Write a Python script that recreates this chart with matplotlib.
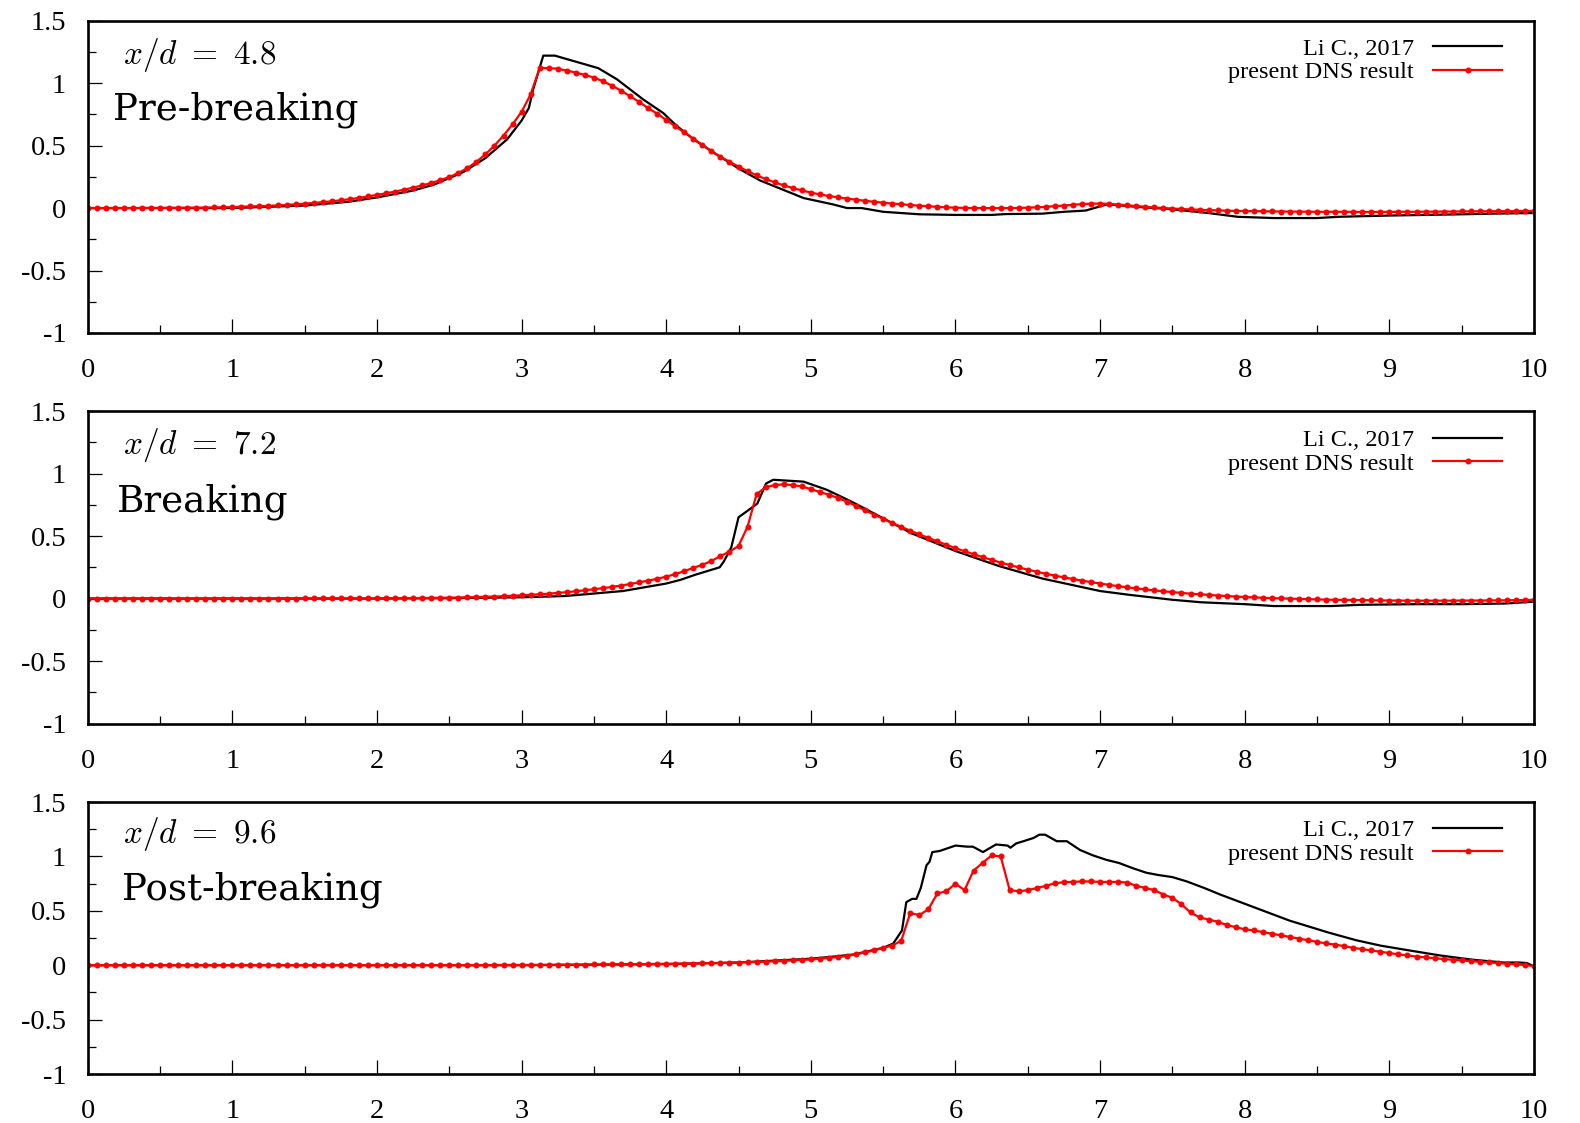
import numpy as np
import matplotlib
matplotlib.use("Agg")
import matplotlib.pyplot as plt
from matplotlib.ticker import MultipleLocator, FixedLocator, FixedFormatter

plt.rcParams['mathtext.fontset'] = 'cm'

# DNS result, sampled every 1/16 on 0..10 (161 points)
x_dns = np.linspace(0, 10, 161)

red1 = [0.000, 0.000, 0.000, 0.000, 0.000, 0.000, 0.001, 0.001, 0.001,
        0.002, 0.002, 0.003, 0.003, 0.004, 0.005, 0.006, 0.008,
        0.011, 0.013, 0.015, 0.018, 0.021, 0.025, 0.030, 0.035,
        0.041, 0.047, 0.054, 0.062, 0.071, 0.081, 0.093, 0.105,
        0.118, 0.132, 0.147, 0.163, 0.181, 0.201, 0.223, 0.248,
        0.280, 0.320, 0.370, 0.430, 0.500, 0.580, 0.670, 0.770,
        0.910, 1.120,
        1.120, 1.115, 1.100, 1.085, 1.065, 1.045, 1.015, 0.980,
        0.940, 0.895, 0.850, 0.800, 0.755, 0.705, 0.655, 0.605,
        0.555, 0.505, 0.455, 0.410, 0.370, 0.332, 0.295, 0.262,
        0.232, 0.205, 0.182, 0.160, 0.141, 0.124, 0.109, 0.096,
        0.086, 0.076, 0.067, 0.058, 0.050, 0.043, 0.036, 0.030,
        0.024, 0.019, 0.014, 0.010, 0.006, 0.003, 0.001, 0.000,
        0.000, -0.001, -0.001, 0.000, 0.001, 0.003, 0.006, 0.010,
        0.015, 0.020, 0.026, 0.031, 0.035, 0.036, 0.033, 0.028,
        0.022, 0.016, 0.010, 0.005, 0.000, -0.004, -0.008, -0.011,
        -0.014, -0.017, -0.019, -0.021, -0.023, -0.024, -0.025, -0.026,
        -0.027, -0.028, -0.028, -0.029, -0.029, -0.030, -0.030, -0.030,
        -0.030, -0.031, -0.031, -0.031, -0.031, -0.031, -0.030, -0.030,
        -0.030, -0.029, -0.029, -0.028, -0.028, -0.027, -0.027, -0.026,
        -0.026, -0.025, -0.025, -0.024, -0.024, -0.023]

red2 = [0.000, 0.000, 0.000, 0.000, 0.000, 0.000, 0.000, 0.000, 0.000,
        0.000, 0.000, 0.000, 0.000, 0.000, 0.000, 0.000, 0.000,
        0.000, 0.000, 0.000, 0.000, 0.000, 0.000, 0.000, 0.001,
        0.001, 0.001, 0.001, 0.001, 0.001, 0.001, 0.001, 0.001,
        0.002, 0.002, 0.003, 0.003, 0.004, 0.005, 0.006, 0.007,
        0.008, 0.010, 0.012, 0.014, 0.016, 0.019, 0.022, 0.026,
        0.030, 0.034, 0.039, 0.045, 0.051, 0.058, 0.066, 0.074,
        0.083, 0.093, 0.104, 0.116, 0.129, 0.143, 0.158, 0.175,
        0.195, 0.220, 0.245, 0.270, 0.300, 0.340, 0.375, 0.420,
        0.575, 0.835, 0.890, 0.908, 0.913, 0.908, 0.897, 0.875,
        0.852, 0.830, 0.805, 0.775, 0.740, 0.705, 0.672, 0.638,
        0.605, 0.573, 0.543, 0.513, 0.485, 0.457, 0.430, 0.403,
        0.378, 0.354, 0.331, 0.309, 0.288, 0.268, 0.249, 0.231,
        0.214, 0.198, 0.183, 0.169, 0.156, 0.143, 0.131, 0.120,
        0.109, 0.099, 0.090, 0.081, 0.073, 0.065, 0.058, 0.051,
        0.045, 0.039, 0.034, 0.029, 0.024, 0.020, 0.016, 0.012,
        0.009, 0.006, 0.003, 0.001, -0.001, -0.003, -0.005, -0.007,
        -0.009, -0.010, -0.011, -0.012, -0.013, -0.014, -0.015, -0.016,
        -0.016, -0.017, -0.017, -0.017, -0.017, -0.017, -0.017, -0.016,
        -0.016, -0.016, -0.015, -0.015, -0.014, -0.013, -0.012, -0.010]

red3 = [0.000, 0.000, 0.000, 0.000, 0.000, 0.000, 0.000, 0.000, 0.000,
        0.000, 0.000, 0.000, 0.000, 0.000, 0.000, 0.000, 0.000,
        0.000, 0.000, 0.000, 0.000, 0.000, 0.000, 0.000, 0.000,
        0.000, 0.000, 0.000, 0.000, 0.000, 0.000, 0.000, 0.000,
        0.000, 0.000, 0.000, 0.000, 0.000, 0.001, 0.001, 0.001,
        0.001, 0.001, 0.001, 0.002, 0.002, 0.002, 0.003, 0.003,
        0.003, 0.004, 0.004, 0.005, 0.005, 0.006, 0.006, 0.007,
        0.007, 0.008, 0.009, 0.009, 0.010, 0.011, 0.012, 0.013,
        0.014, 0.015, 0.016, 0.018, 0.019, 0.021, 0.023, 0.025,
        0.027, 0.030, 0.033, 0.036, 0.040, 0.044, 0.048, 0.053,
        0.060, 0.067, 0.075, 0.086, 0.100, 0.118, 0.136, 0.160,
        0.180, 0.225, 0.480, 0.460, 0.515, 0.660, 0.680, 0.750,
        0.690, 0.870, 0.940, 1.010, 1.000, 0.690, 0.680, 0.690,
        0.710, 0.730, 0.754, 0.763, 0.766, 0.770, 0.770, 0.766,
        0.766, 0.766, 0.760, 0.730, 0.710, 0.690, 0.650, 0.620,
        0.560, 0.485, 0.440, 0.420, 0.400, 0.370, 0.350, 0.330,
        0.320, 0.305, 0.290, 0.275, 0.260, 0.245, 0.230, 0.215,
        0.200, 0.190, 0.175, 0.160, 0.148, 0.136, 0.124, 0.112,
        0.100, 0.090, 0.080, 0.072, 0.064, 0.057, 0.050, 0.044,
        0.038, 0.032, 0.026, 0.020, 0.014, 0.008, 0.002, -0.008]

# reference data (Li C., 2017)
black1_x = [0, 1.0, 1.5, 1.8, 2.0, 2.25, 2.4, 2.6, 2.75, 2.9, 3.0, 3.05, 3.08, 3.15, 3.23,
            3.38, 3.53, 3.66, 3.84, 3.98, 4.07, 4.19, 4.32, 4.51, 4.65, 4.8, 4.95, 5.15, 5.25, 5.35,
            5.5, 5.75, 6.0, 6.25, 6.35, 6.6, 6.75, 6.9, 7.05, 7.25, 7.5, 7.75, 7.95, 8.2, 8.5,
            8.65, 9.0, 9.5, 9.7, 10.0]
black1_y = [0, 0.0, 0.02, 0.05, 0.085, 0.14, 0.19, 0.29, 0.40, 0.55, 0.70, 0.80, 0.95, 1.22, 1.22,
            1.17, 1.12, 1.03, 0.87, 0.76, 0.66, 0.55, 0.45, 0.31, 0.22, 0.15, 0.08, 0.03, 0.0, 0.0,
            -0.03, -0.05, -0.055, -0.055, -0.048, -0.045, -0.03, -0.02, 0.03, 0.01, -0.01, -0.04, -0.07, -0.08, -0.08,
            -0.07, -0.06, -0.05, -0.045, -0.04]

black2_x = [0, 2.0, 2.5, 3.0, 3.3, 3.5, 3.7, 4.0, 4.1, 4.2, 4.37, 4.40, 4.45, 4.50, 4.56,
            4.63, 4.66, 4.69, 4.74, 4.95, 5.11, 5.29, 5.47, 5.7, 6.0, 6.3, 6.6, 6.8, 7.0, 7.2,
            7.5, 7.7, 8.0, 8.2, 8.6, 8.8, 9.2, 9.5, 9.8, 10.0]
black2_y = [0, 0.0, 0.003, 0.01, 0.02, 0.04, 0.06, 0.12, 0.15, 0.19, 0.25, 0.30, 0.41, 0.65, 0.70,
            0.76, 0.84, 0.92, 0.95, 0.935, 0.87, 0.77, 0.66, 0.52, 0.38, 0.26, 0.16, 0.11, 0.06, 0.03,
            -0.01, -0.03, -0.045, -0.06, -0.06, -0.05, -0.045, -0.045, -0.04, -0.025]

black3_x = [0, 3.0, 4.0, 4.5, 5.0, 5.16, 5.3, 5.5, 5.57, 5.63, 5.66, 5.70, 5.73, 5.76, 5.80,
            5.82, 5.84, 5.89, 6.0, 6.08, 6.12, 6.19, 6.28, 6.36, 6.38, 6.42, 6.47, 6.54, 6.58, 6.62,
            6.70, 6.77, 6.86, 6.95, 7.04, 7.13, 7.23, 7.32, 7.4, 7.5, 7.6, 7.72, 7.83, 7.95, 8.13,
            8.31, 8.58, 8.77, 8.94, 9.12, 9.35, 9.58, 9.79, 9.9, 9.95, 10.0]
black3_y = [0, 0.0, 0.01, 0.025, 0.06, 0.08, 0.10, 0.16, 0.20, 0.32, 0.58, 0.61, 0.61, 0.71, 0.92,
            0.95, 1.04, 1.05, 1.10, 1.09, 1.09, 1.04, 1.11, 1.10, 1.08, 1.12, 1.14, 1.17, 1.20, 1.20,
            1.14, 1.14, 1.06, 1.01, 0.97, 0.94, 0.89, 0.85, 0.83, 0.81, 0.77, 0.71, 0.65, 0.59, 0.50,
            0.41, 0.30, 0.23, 0.18, 0.14, 0.09, 0.05, 0.025, 0.025, 0.02, -0.01]

positions = [r"$x/d\ =\ 4.8$", r"$x/d\ =\ 7.2$", r"$x/d\ =\ 9.6$"]
stages = ["Pre-breaking", "Breaking", "Post-breaking"]
yticks = [-1, -0.5, 0, 0.5, 1, 1.5]
ytick_labels = ["-1", "-0.5", "0", "0.5", "1", "1.5"]
xticks = list(range(11))

panels = [(black1_x, black1_y, red1), (black2_x, black2_y, red2), (black3_x, black3_y, red3)]

# axes rectangles in figure fraction: left, bottom, width, height
rects = [[0.0555, 0.7035, 0.9154, 0.2781],
         [0.0555, 0.3557, 0.9154, 0.2783],
         [0.0555, 0.0436, 0.9154, 0.2422]]
label_y = [(0.861, 0.682), (0.864, 0.680), (0.851, 0.640)]
label_x = [(0.0244, 0.0175), (0.0244, 0.0200), (0.0244, 0.0240)]
legend_top = [0.945, 0.942, 0.937]

serif = 'Liberation Serif'

fig = plt.figure(figsize=(15.8, 11.23), dpi=100)

for i, (bx, by, ry) in enumerate(panels):
    ax = fig.add_axes(rects[i])
    ax.plot(bx, by, color='black', lw=1.6, label='Li C., 2017')
    ax.plot(x_dns, ry, color='red', lw=1.6, marker='o', ms=3.3,
            label='present DNS result')
    ax.set_xlim(0, 10)
    ax.set_ylim(-1, 1.5)

    ax.xaxis.set_major_locator(FixedLocator(xticks))
    ax.xaxis.set_minor_locator(MultipleLocator(0.5))
    ax.yaxis.set_major_locator(FixedLocator(yticks))
    ax.yaxis.set_major_formatter(FixedFormatter(ytick_labels))
    ax.yaxis.set_minor_locator(MultipleLocator(0.25))
    ax.tick_params(which='both', direction='in', top=False, right=False, width=0.9)
    ax.tick_params(which='major', length=10)
    ax.tick_params(which='minor', length=6)
    ax.tick_params(axis='x', which='major', pad=18, labelsize=20.5)
    ax.tick_params(axis='y', which='major', pad=15.5, labelsize=20.5)
    for lab in ax.get_xticklabels() + ax.get_yticklabels():
        lab.set_fontfamily(serif)
    for sp in ax.spines.values():
        sp.set_linewidth(1.9)

    ax.text(label_x[i][0], label_y[i][0], positions[i], transform=ax.transAxes,
            fontsize=24, va='baseline', ha='left')
    ax.text(label_x[i][1], label_y[i][1], stages[i], transform=ax.transAxes,
            fontsize=26.8, va='baseline', ha='left', family='DejaVu Serif')

    leg = ax.legend(loc='upper right', bbox_to_anchor=(0.978, legend_top[i]),
                    frameon=False, markerfirst=False, numpoints=1,
                    handlelength=2.82, handletextpad=0.78, labelspacing=0.05,
                    borderpad=0, borderaxespad=0,
                    prop={'family': serif, 'size': 17.6})

fig.savefig('out.png', dpi=100)
